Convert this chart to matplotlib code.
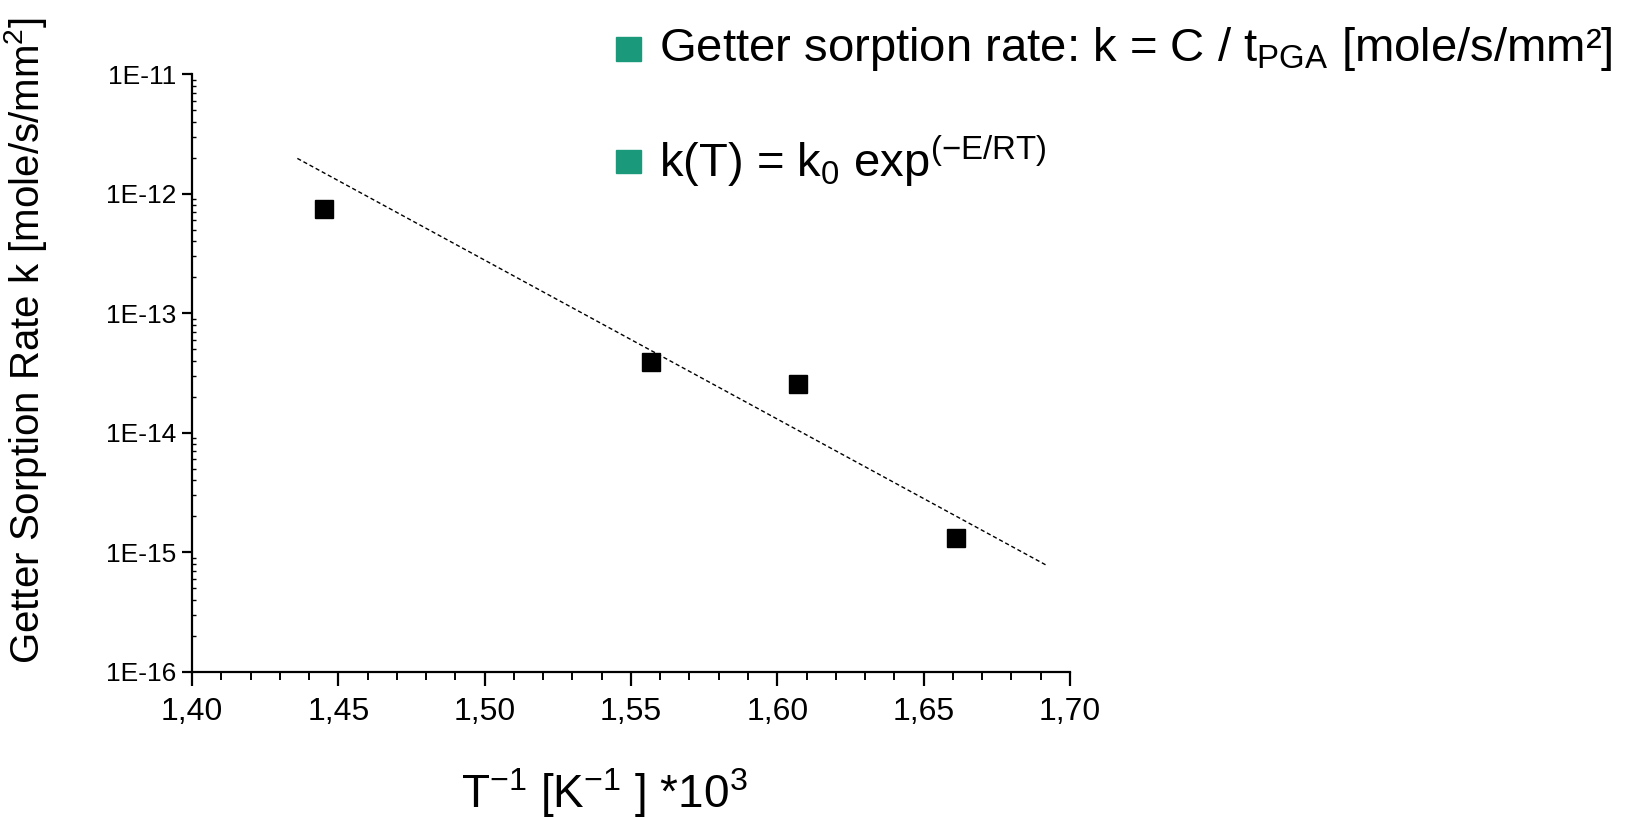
import numpy as np
import matplotlib
matplotlib.use('Agg')
import matplotlib.pyplot as plt
from matplotlib.ticker import FixedLocator, FuncFormatter, MultipleLocator, LogLocator, NullFormatter

# Data
inv_T = [1.445, 1.557, 1.607, 1.661]          # T^-1 [K^-1] * 10^3
rate_k = [7.5e-13, 3.9e-14, 2.55e-14, 1.33e-15]  # mole/s/mm^2

# Arrhenius fit line (end points)
fit_x = [1.436, 1.692]
fit_y = [1.97e-12, 7.8e-16]

y_ticks = [1e-16, 1e-15, 1e-14, 1e-13, 1e-12, 1e-11]
x_ticks = [1.40, 1.45, 1.50, 1.55, 1.60, 1.65, 1.70]

plt.rcParams['font.family'] = ['Liberation Sans', 'DejaVu Sans']
plt.rcParams['mathtext.fontset'] = 'custom'
plt.rcParams['mathtext.rm'] = 'Liberation Sans'
plt.rcParams['mathtext.it'] = 'Liberation Sans:italic'
plt.rcParams['mathtext.bf'] = 'Liberation Sans:bold'

fig = plt.figure(figsize=(16.34, 8.18), dpi=100)
ax = fig.add_axes([0.1175, 0.1785, 0.5373, 0.731])

# Fit line and data points
ax.plot(fit_x, fit_y, color='black', linewidth=1.0, linestyle=(0, (3, 2)))
ax.plot(inv_T, rate_k, linestyle='none', marker='s', markersize=13, color='black')

ax.set_yscale('log')
ax.set_xlim(1.40, 1.70)
ax.set_ylim(1e-16, 1e-11)

ax.spines['top'].set_visible(False)
ax.spines['right'].set_visible(False)
ax.spines['left'].set_linewidth(1.6)
ax.spines['bottom'].set_linewidth(1.6)

ax.yaxis.set_major_locator(FixedLocator(y_ticks))
ax.yaxis.set_major_formatter(FuncFormatter(lambda v, p: '1E%d' % round(np.log10(v))))
ax.yaxis.set_minor_locator(LogLocator(base=10, subs=np.arange(2, 10)))
ax.yaxis.set_minor_formatter(NullFormatter())

ax.xaxis.set_major_locator(FixedLocator(x_ticks))
ax.xaxis.set_major_formatter(FuncFormatter(lambda v, p: ('%.2f' % v).replace('.', ',')))
ax.xaxis.set_minor_locator(MultipleLocator(0.01))

ax.tick_params(axis='y', which='major', direction='out', length=7, width=1.6, labelsize=19, pad=4)
ax.tick_params(axis='y', which='minor', direction='in', length=3, width=1.0)
ax.tick_params(axis='x', which='major', direction='out', length=10, width=1.6, labelsize=23, pad=8)
ax.tick_params(axis='x', which='minor', direction='out', length=6, width=1.4)

ax.set_ylabel('Getter Sorption Rate k [mole/s/mm$^2$]', fontsize=29)
ax.yaxis.set_label_coords(-0.163, 0.555)
ax.set_xlabel('T$^{-1}$ [K$^{-1}$ ] *10$^3$', fontsize=33)
ax.xaxis.set_label_coords(0.47, -0.157)

# Bullet annotations on the right
green = '#1a9a7a'
bullets = [
    (0.9407, 'Getter sorption rate: k = C / t$_{\\mathrm{PGA}}$ [mole/s/mm\u00b2]'),
    (0.8026, 'k(T) = k$_0$ exp$^{(\\mathrm{-E/RT})}$'),
]
for by, txt in bullets:
    fig.patches.append(plt.Rectangle((0.377, by - 0.0147), 0.0153, 0.0293,
                                     transform=fig.transFigure, color=green))
    fig.text(0.403, by, txt, fontsize=34, va='center', ha='left')

fig.savefig('out.png', dpi=100)
